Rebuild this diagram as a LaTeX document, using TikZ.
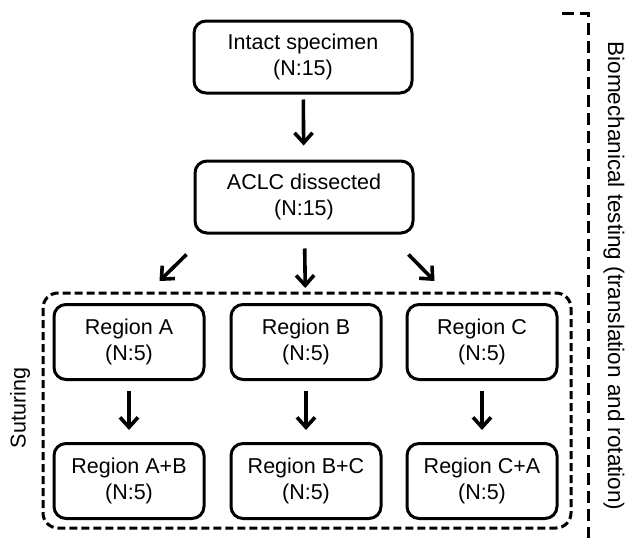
\documentclass[tikz,border=0pt]{standalone}
\usepackage{fontspec}
\setmainfont{Liberation Sans}
\usepackage{tikz}
\usetikzlibrary{arrows.meta}

\begin{document}
\begin{tikzpicture}[x=1pt,y=-1pt,
		box/.style={draw,line width=3pt,rounded corners=12pt,align=center,
			font=\fontsize{21.5}{26.5}\selectfont,inner sep=0pt},
		bigbox/.style={box,minimum width=218pt,minimum height=72pt},
		regbox/.style={box,minimum width=150pt,minimum height=75pt},
		arr/.style={-{Straight Barb[length=10pt,width=18pt]},line width=3.6pt}]
		\useasboundingbox (0,0) rectangle (630,538);
		\node[bigbox] (intact) at (303,57) {Intact specimen\\(N:15)};
		\node[bigbox] (aclc) at (304,197) {ACLC dissected\\(N:15)};
		\node[regbox] (rega) at (129,342) {Region A\\(N:5)};
		\node[regbox] (regb) at (306,342) {Region B\\(N:5)};
		\node[regbox] (regc) at (482,342) {Region C\\(N:5)};
		\node[regbox] (regab) at (129,481) {Region A+B\\(N:5)};
		\node[regbox] (regbc) at (306,481) {Region B+C\\(N:5)};
		\node[regbox] (regca) at (482,481) {Region C+A\\(N:5)};
		\draw[arr,shorten <=5pt,shorten >=14pt] (intact) -- (aclc);
		\draw[arr] ([shift={(-7,20)}]aclc.south west) -- ([shift={(-46,-22)}]rega.north east);
		\draw[arr,shorten <=14pt,shorten >=15pt] (aclc) -- (regb);
		\draw[arr] ([shift={(-6,20)}]aclc.south east) -- ([shift={(29,-22)}]regc.north west);
		\draw[arr,shorten <=10pt,shorten >=12pt] (rega) -- (regab);
		\draw[arr,shorten <=10pt,shorten >=12pt] (regb) -- (regbc);
		\draw[arr,shorten <=10pt,shorten >=12pt] (regc) -- (regca);
		% suturing group
		\draw[line width=3pt,dash pattern=on 8pt off 4pt,rounded corners=15pt] (43,293) rectangle (571,528);
		\node[rotate=90,font=\fontsize{21.5}{26}\selectfont] (sut) at (20,408) {Suturing};
		% testing bracket
		\draw[line width=3pt,dash pattern=on 12pt off 6pt] (562,13) -- (588,13) -- (588,538);
		\node[rotate=-90,font=\fontsize{22.5}{27}\selectfont] (bio) at (614,276) {Biomechanical testing (translation and rotation)};
	\end{tikzpicture}
\end{document}
